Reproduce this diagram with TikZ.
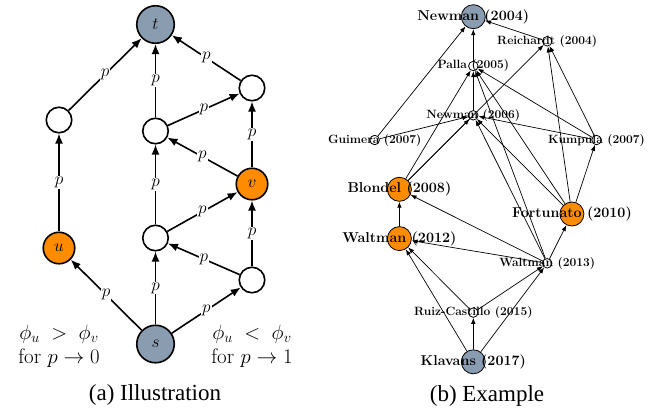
\documentclass[tikz,border=0pt]{standalone}
\usepackage{fontspec}
\newfontfamily\capfont{Liberation Serif}
\usetikzlibrary{arrows.meta}
\definecolor{orng}{HTML}{FF8C00}
\definecolor{slate}{HTML}{8A9CB0}
\begin{document}
\begin{tikzpicture}[x=1pt,y=-1pt,
  an/.style={circle,draw=black,line width=1.6pt,inner sep=0pt,font=\fontsize{19}{22}\selectfont},
  wn/.style={an,fill=white,minimum size=25.5pt},
  on/.style={an,fill=orng,minimum size=31.5pt},
  gn/.style={an,fill=slate,minimum size=37.5pt},
  ae/.style={line width=1.6pt,-{Latex[length=10pt,width=8pt]}},
  pl/.style={fill=white,inner sep=1pt,font=\fontsize{19}{22}\selectfont},
  cond/.style={anchor=base,inner sep=0pt,font=\fontsize{21}{24}\selectfont},
  bn/.style={circle,draw=black,line width=0.8pt,inner sep=0pt},
  bbig/.style={bn,minimum size=24pt},
  bsm/.style={bn,fill=white,minimum size=9.5pt},
  be/.style={line width=0.7pt,-{Latex[length=6pt,width=4.5pt]}},
  bsl/.style={inner sep=0pt,font=\fontsize{12}{14}\selectfont\bfseries},
  bll/.style={inner sep=0pt,font=\fontsize{14.3}{16}\selectfont\bfseries},
  captxt/.style={anchor=base,inner sep=0pt,font=\capfont\fontsize{23}{26}\selectfont}
]
\useasboundingbox (0,0) rectangle (660,408);

% ---------- (a) Illustration ----------
\node[gn] (t) at (155.5,24.5) {$t$};
\node[wn] (l1) at (59,120) {};
\node[on] (u) at (59,248) {$u$};
\node[wn] (m1) at (155.5,131) {};
\node[wn] (m2) at (155.5,238) {};
\node[gn] (s) at (155.5,344) {$s$};
\node[wn] (r1) at (252,88) {};
\node[on] (v) at (252,184) {$v$};
\node[wn] (r3) at (252,280) {};

\draw[ae] (l1) -- node[pl] {$p$} (t);
\draw[ae] (u) -- node[pl] {$p$} (l1);
\draw[ae] (s) -- node[pl] {$p$} (u);
\draw[ae] (m1) -- node[pl] {$p$} (t);
\draw[ae] (m1) -- node[pl] {$p$} (r1);
\draw[ae] (r1) -- node[pl] {$p$} (t);
\draw[ae] (v) -- node[pl] {$p$} (r1);
\draw[ae] (v) -- node[pl] {$p$} (m1);
\draw[ae] (m2) -- node[pl] {$p$} (m1);
\draw[ae] (m2) -- node[pl] {$p$} (v);
\draw[ae] (r3) -- node[pl] {$p$} (v);
\draw[ae] (r3) -- node[pl] {$p$} (m2);
\draw[ae] (s) -- node[pl] {$p$} (m2);
\draw[ae] (s) -- node[pl] {$p$} (r3);

\node[cond] (c1) at (59,339) {$\phi_u \;>\; \phi_v$};
\node[cond] (c2) at (59,363) {for $p \to 0$};
\node[cond] (c3) at (252,339) {$\phi_u \;<\; \phi_v$};
\node[cond] (c4) at (252,363) {for $p \to 1$};

\node[captxt] (capa) at (155,400.5) {(a) Illustration};

% ---------- (b) Example ----------
\node[bbig,fill=slate] (N04) at (473.3,16.7) {};
\node[bsm] (R04) at (547.2,41.3) {};
\node[bsm] (P05) at (473.3,66) {};
\node[bsm] (N06) at (473.3,115.3) {};
\node[bsm] (G07) at (374.7,140) {};
\node[bsm] (K07) at (596.5,140) {};
\node[bbig,fill=orng] (B08) at (399.4,189.3) {};
\node[bbig,fill=orng] (F10) at (571.9,214) {};
\node[bbig,fill=orng] (W12) at (399.4,238.6) {};
\node[bsm] (W13) at (547.2,263.3) {};
\node[bsm] (RC15) at (473.3,312.6) {};
\node[bbig,fill=slate] (K17) at (473.3,361.8) {};

\draw[be] (G07) -- (N04);
\draw[be] (P05) -- (N04);
\draw[be] (R04) -- (N04);
\draw[be] (N06) -- (P05);
\draw[be] (G07) -- (N06);
\draw[be] (K07) -- (N06);
\draw[be] (K07) -- (P05);
\draw[be] (K07) -- (R04);
\draw[be] (B08) -- (N06);
\draw[be] (B08) -- (P05);
\draw[be] (B08) -- (R04);
\draw[be] (F10) -- (N06);
\draw[be] (F10) -- (P05);
\draw[be] (F10) -- (R04);
\draw[be] (F10) -- (K07);
\draw[be] (W12) -- (B08);
\draw[be] (W13) -- (B08);
\draw[be] (W13) -- (W12);
\draw[be] (W13) -- (F10);
\draw[be] (W13) -- (N06);
\draw[be] (W13) -- (P05);
\draw[be] (RC15) -- (W12);
\draw[be] (RC15) -- (W13);
\draw[be] (K17) -- (W12);
\draw[be] (K17) -- (RC15);
\draw[be] (K17) -- (W13);

\node[bll] (tN04) at (N04) {Newman (2004)};
\node[bsl] (tR04) at (R04) {Reichardt (2004)};
\node[bsl] (tP05) at (P05) {Palla (2005)};
\node[bsl] (tN06) at (N06) {Newman (2006)};
\node[bsl] (tG07) at (G07) {Guimera (2007)};
\node[bsl] (tK07) at (K07) {Kumpula (2007)};
\node[bll] (tB08) at (B08) {Blondel (2008)};
\node[bll] (tF10) at (F10) {Fortunato (2010)};
\node[bll] (tW12) at (W12) {Waltman (2012)};
\node[bsl] (tW13) at (W13) {Waltman (2013)};
\node[bsl] (tRC15) at (RC15) {Ruiz-Castillo (2015)};
\node[bll] (tK17) at (K17) {Klavans (2017)};

\node[captxt] (capb) at (487,401) {(b) Example};
\end{tikzpicture}
\end{document}
